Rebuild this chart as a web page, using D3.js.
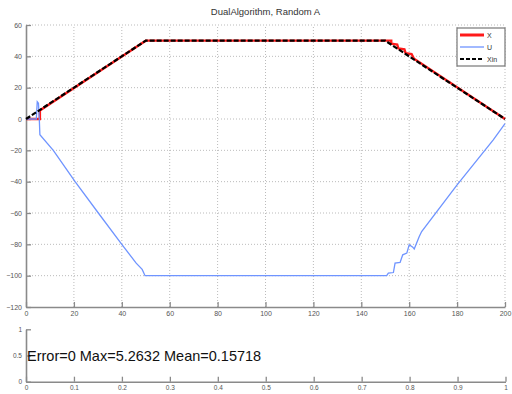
<!DOCTYPE html>
<html><head><meta charset="utf-8">
<script src="https://cdn.jsdelivr.net/npm/d3@7"></script>
<style>body{margin:0;background:#fff;} svg{display:block;font-family:"Liberation Sans",Arial,sans-serif;}</style>
</head><body>
<svg id="c" width="512" height="394"></svg>
<script>
const title = "DualAlgorithm, Random A";
const xTicks = [0,20,40,60,80,100,120,140,160,180,200];
const yTicks = [-120,-100,-80,-60,-40,-20,0,20,40,60];
const seriesNames = ["X","U","Xin"];
const seriesX = [[0,0],[5.8,0],[5.8,5.5],[50,50],[150,50],[152.5,50],[152.5,48],[155,47.5],[155.5,45],[158,44.5],[158.5,42],[161,41.5],[162,38.5],[200,0]];
const seriesU = [[0,0],[4.3,0],[4.7,11],[5.2,10],[5.6,-2],[5.8,-10],[11.4,-20],[20.5,-40],[30.2,-60],[40,-80],[46,-92],[48.5,-96],[49.7,-100],[150.6,-100],[151.3,-98.4],[153.4,-98],[154.1,-92],[156.2,-91.6],[157.3,-86.7],[159,-85.6],[160,-80.3],[161.5,-81.8],[162.1,-83],[164.2,-75],[165.2,-71.8],[180,-42],[195.1,-13.3],[200,-3]];
const seriesXin = [[0,0],[50,50],[150,50],[200,0]];
const bottomXTicks = [0,0.1,0.2,0.3,0.4,0.5,0.6,0.7,0.8,0.9,1];
const bottomYTicks = [0,0.5,1];
const bottomText = "Error=0 Max=5.2632 Mean=0.15718";

const svg = d3.select("#c");
const axisCol = "#8a8a8a", labCol = "#555";

// main plot
const x = d3.scaleLinear().domain([0,200]).range([26,505]);
const y = d3.scaleLinear().domain([-120,60]).range([307,25]);

// grid
const g = svg.append("g");
g.selectAll(".gx").data(xTicks.filter(d=>d>0)).join("line")
  .attr("x1",d=>x(d)).attr("x2",d=>x(d)).attr("y1",y(-120)).attr("y2",y(60))
  .attr("stroke","#aaa").attr("stroke-width",0.8).attr("stroke-dasharray","1,2");
g.selectAll(".gy").data(yTicks.filter(d=>d>-120)).join("line")
  .attr("x1",x(0)).attr("x2",x(200)).attr("y1",d=>y(d)).attr("y2",d=>y(d))
  .attr("stroke","#aaa").attr("stroke-width",0.8).attr("stroke-dasharray","1,2");

function styleAxis(sel){
  sel.select(".domain").attr("stroke",axisCol).attr("stroke-width",1.6);
  sel.selectAll(".tick line").attr("stroke",axisCol).attr("stroke-width",1.3);
  sel.selectAll(".tick text").attr("fill",labCol);
}
const xa = svg.append("g").attr("transform",`translate(0,${y(-120)})`)
  .call(d3.axisBottom(x).tickValues(xTicks).tickSize(-5).tickSizeOuter(0).tickPadding(3).tickFormat(d3.format("d")));
xa.attr("font-size",7).attr("font-family",null);
xa.selectAll(".tick text").attr("dy","0.9em");
styleAxis(xa);
const ya = svg.append("g").attr("transform",`translate(${x(0)},0)`)
  .call(d3.axisLeft(y).tickValues(yTicks).tickSize(-5).tickSizeOuter(0).tickPadding(4).tickFormat(d3.format("d")));
ya.attr("font-size",7).attr("font-family",null);
styleAxis(ya);

const line = d3.line().x(d=>x(d[0])).y(d=>y(d[1]));
svg.append("path").datum(seriesX).attr("d",line).attr("fill","none").attr("stroke","#ff1a1a").attr("stroke-width",2.4);
svg.append("path").datum(seriesU).attr("d",line).attr("fill","none").attr("stroke","#6f94ff").attr("stroke-width",1.3);
svg.append("path").datum(seriesXin).attr("d",line).attr("fill","none").attr("stroke","#000").attr("stroke-width",2.2).attr("stroke-dasharray","5,2");

svg.append("text").attr("x",(x(0)+x(200))/2).attr("y",15).attr("text-anchor","middle")
  .attr("font-size",9.5).attr("fill","#333").text(title);

// legend
const lg = svg.append("g");
lg.append("rect").attr("x",457).attr("y",28).attr("width",48).attr("height",38)
  .attr("fill","#fff").attr("stroke","#777").attr("stroke-width",1.2);
const legStyles = [{c:"#ff1a1a",w:3,da:null},{c:"#6f94ff",w:1.3,da:null},{c:"#000",w:2,da:"4,2"}];
seriesNames.forEach((n,i)=>{
  const yy = 35 + i*12;
  lg.append("line").attr("x1",460).attr("x2",484).attr("y1",yy).attr("y2",yy)
    .attr("stroke",legStyles[i].c).attr("stroke-width",legStyles[i].w).attr("stroke-dasharray",legStyles[i].da);
  lg.append("text").attr("x",487).attr("y",yy+2.5).attr("font-size",7).attr("fill","#333").text(n);
});

// bottom plot
const bx = d3.scaleLinear().domain([0,1]).range([26,505.5]);
const by = d3.scaleLinear().domain([0,1]).range([381.7,329.3]);
const bxa = svg.append("g").attr("transform",`translate(0,${by(0)})`)
  .call(d3.axisBottom(bx).tickValues(bottomXTicks).tickSize(-5).tickSizeOuter(0).tickPadding(3).tickFormat(d=>d===0||d===1?d3.format("d")(d):d3.format(".1f")(d)));
bxa.attr("font-size",6.5).attr("font-family",null);
bxa.selectAll(".tick text").attr("dy","0.85em");
styleAxis(bxa);
const bya = svg.append("g").attr("transform",`translate(${bx(0)},0)`)
  .call(d3.axisLeft(by).tickValues(bottomYTicks).tickSize(-5).tickSizeOuter(0).tickPadding(4).tickFormat(d=>d===0.5?"0.5":d3.format("d")(d)));
bya.attr("font-size",6.5).attr("font-family",null);
styleAxis(bya);

svg.append("text").attr("x",bx(0)+1).attr("y",by(0.5)+5.5).attr("font-size",14.5).attr("fill","#111").text(bottomText);
</script>
</body></html>
